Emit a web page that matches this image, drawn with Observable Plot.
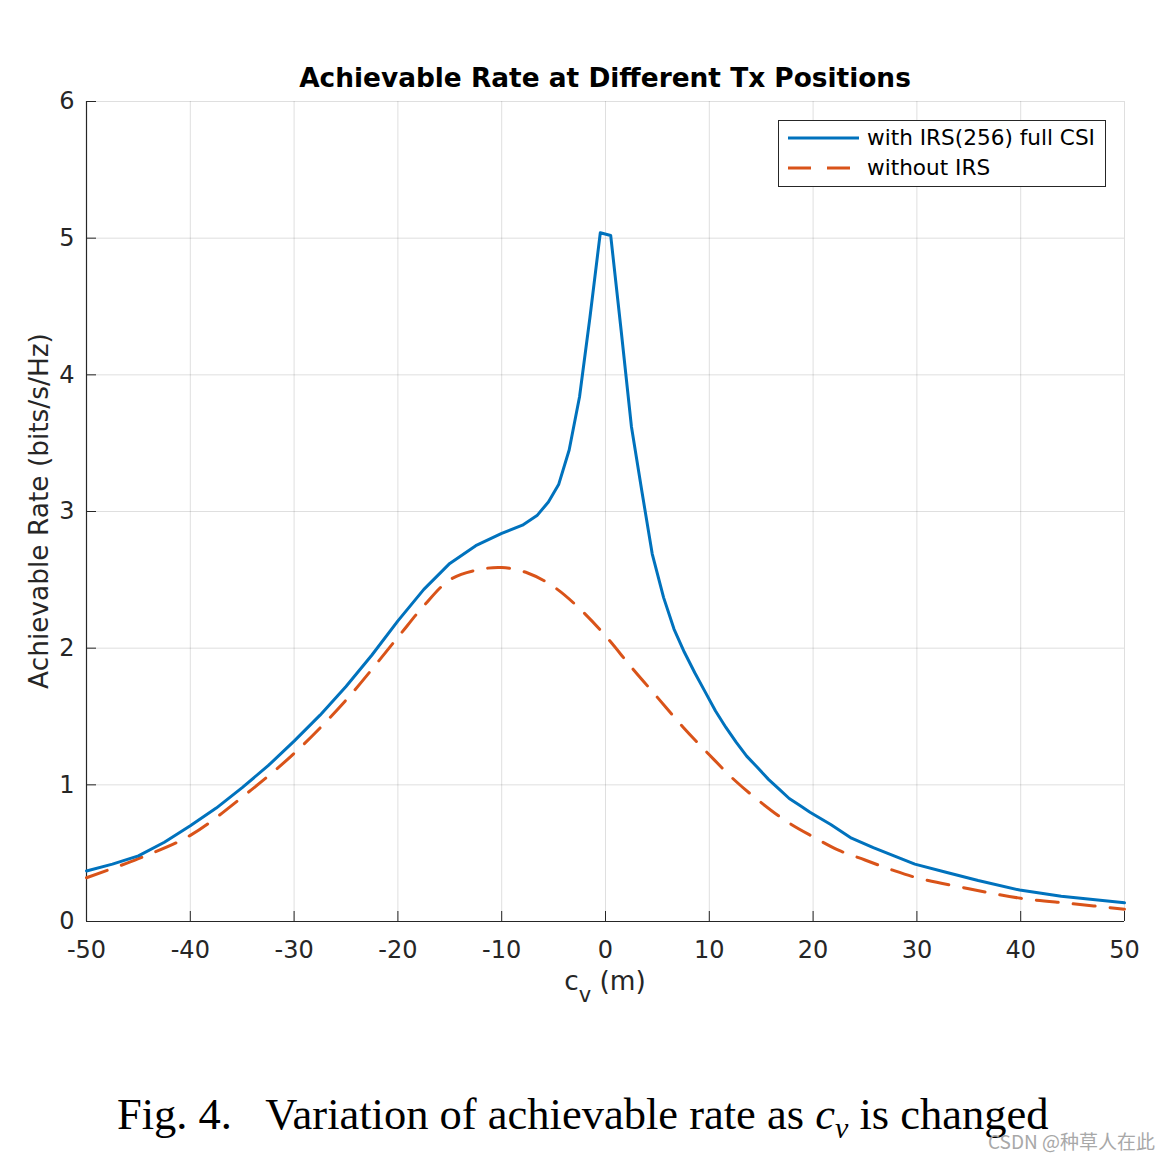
<!DOCTYPE html>
<html>
<head>
<meta charset="utf-8">
<script src="https://cdn.jsdelivr.net/npm/d3@7"></script>
<script src="https://cdn.jsdelivr.net/npm/@observablehq/plot@0.6"></script>
<style>
  html, body { margin: 0; padding: 0; background: #fff; }
  #wrap { position: relative; width: 1173px; height: 1162px; overflow: hidden; }
  .abs { position: absolute; white-space: nowrap; }
  #title { left: 86px; width: 1038px; top: 62px; text-align: center; font: bold 26.4px "DejaVu Sans"; line-height: normal; color: #000; }
  #ylab { left: 38px; top: 511px; transform: translate(-50%, -50%) rotate(-90deg); font: 26.4px "DejaVu Sans"; color: #262626; }
  #xlab { left: 605px; top: 965px; transform: translateX(-50%); font: 26.4px "DejaVu Sans"; color: #262626; }
  #xlab sub { font-size: 21px; vertical-align: -12px; line-height: 0; }
  #legend { left: 778px; top: 120px; width: 326px; height: 65px; border: 1px solid #262626; background: #fff; }
  .lgline { position: absolute; left: 9px; }
  .lgtext { position: absolute; left: 88px; font: 21.6px "DejaVu Sans"; color: #000; }
  #caption { left: 117px; top: 1088px; font: 44.5px "Liberation Serif"; color: #000; }
  #caption sub { font-size: 30px; vertical-align: -9px; line-height: 0; }
  #wm { left: 988px; top: 1131px; font: 19px "Noto Sans CJK SC"; line-height: 1; color: #a8a8a8; }
</style>
</head>
<body>
<div id="wrap">
  <div id="chart" class="abs" style="left:0;top:0"></div>
  <div id="title" class="abs">Achievable Rate at Different Tx Positions</div>
  <div id="ylab" class="abs">Achievable Rate (bits/s/Hz)</div>
  <div id="xlab" class="abs">c<sub>v</sub> (m)</div>
  <div id="legend" class="abs">
    <svg class="lgline" style="top:15px" width="71" height="4"><line x1="0" y1="2" x2="71" y2="2" stroke="#0072BD" stroke-width="3"/></svg>
    <div class="lgtext" style="top:4px">with IRS(256) full CSI</div>
    <svg class="lgline" style="top:45px" width="62" height="4"><line x1="0" y1="2" x2="62" y2="2" stroke="#D95319" stroke-width="3" stroke-dasharray="23,16"/></svg>
    <div class="lgtext" style="top:34px">without IRS</div>
  </div>
  <div id="caption" class="abs">Fig. 4.&nbsp;&nbsp;&nbsp;Variation of achievable rate as <i>c<sub>v</sub></i> is changed</div>
  <div id="wm" class="abs">CSDN @种草人在此</div>
</div>
<script>
const xTicks = [-50, -40, -30, -20, -10, 0, 10, 20, 30, 40, 50];
const yTicks = [0, 1, 2, 3, 4, 5, 6];

// with IRS(256) full CSI
const irsX = [-50, -47.5, -45, -42.5, -40, -37.5, -35, -32.5, -30, -27.5, -25, -22.5, -20, -17.5, -15, -12.5, -10, -8, -6.6, -5.5, -4.5, -3.5, -2.5, -1.5, -0.5, 0.5, 1.5, 2.5, 3.5, 4.5, 5.6, 6.6, 7.6, 8.6, 9.6, 10.6, 11.6, 12.6, 13.6, 14.6, 15.7, 16.7, 17.7, 18.7, 19.7, 21.7, 23.7, 25.8, 27.8, 29.8, 32.8, 35.9, 39.9, 43.9, 50];
const irsY = [0.37, 0.42, 0.48, 0.58, 0.70, 0.83, 0.98, 1.14, 1.32, 1.51, 1.72, 1.95, 2.20, 2.43, 2.62, 2.75, 2.84, 2.90, 2.97, 3.07, 3.20, 3.45, 3.84, 4.42, 5.04, 5.02, 4.33, 3.62, 3.15, 2.69, 2.37, 2.14, 1.97, 1.82, 1.68, 1.54, 1.42, 1.31, 1.21, 1.13, 1.04, 0.97, 0.90, 0.85, 0.80, 0.71, 0.61, 0.54, 0.48, 0.42, 0.36, 0.30, 0.23, 0.185, 0.137];

// without IRS
const noIrsX = [-50, -45, -40, -35, -30, -25, -20, -17.5, -15, -12.5, -10, -7.5, -5, -2.5, 0, 2.5, 5, 7.5, 10, 12.5, 15, 17.5, 20, 22.5, 25, 27.5, 30, 35, 40, 45, 50];
const noIrsY = [0.32, 0.46, 0.63, 0.91, 1.23, 1.62, 2.08, 2.31, 2.50, 2.57, 2.59, 2.55, 2.45, 2.29, 2.09, 1.86, 1.64, 1.42, 1.22, 1.03, 0.87, 0.73, 0.62, 0.52, 0.45, 0.38, 0.32, 0.24, 0.17, 0.13, 0.09];

const irs = irsX.map((x, i) => ({x, y: irsY[i]}));
const noIrs = noIrsX.map((x, i) => ({x, y: noIrsY[i]}));

const chart = Plot.plot({
  width: 1173,
  height: 1010,
  marginTop: 101,
  marginLeft: 86,
  marginRight: 49,
  marginBottom: 89,
  style: {fontFamily: "DejaVu Sans", fontSize: "24px", color: "#262626", background: "transparent", overflow: "visible"},
  x: {domain: [-50, 50]},
  y: {domain: [0, 6]},
  marks: [
    Plot.gridX(xTicks, {stroke: "#262626", strokeOpacity: 0.15, strokeWidth: 1}),
    Plot.gridY(yTicks, {stroke: "#262626", strokeOpacity: 0.15, strokeWidth: 1}),
    Plot.axisX(xTicks, {tickSize: -10, tickPadding: 29, label: null, tickFormat: d => String(d), fontSize: 24, fill: "#262626", stroke: "#262626"}),
    Plot.axisY(yTicks, {tickSize: -10, tickPadding: 22, label: null, tickFormat: d => String(d), fontSize: 24, fill: "#262626", stroke: "#262626"}),
    Plot.ruleX([-50], {stroke: "#262626", strokeWidth: 1.2}),
    Plot.ruleY([0], {stroke: "#262626", strokeWidth: 1.2}),
    Plot.line(noIrs, {x: "x", y: "y", stroke: "#D95319", strokeWidth: 3, strokeDasharray: "22,15", curve: "catmull-rom"}),
    Plot.line(irs, {x: "x", y: "y", stroke: "#0072BD", strokeWidth: 3})
  ]
});
document.getElementById("chart").appendChild(chart);
</script>
</body>
</html>
